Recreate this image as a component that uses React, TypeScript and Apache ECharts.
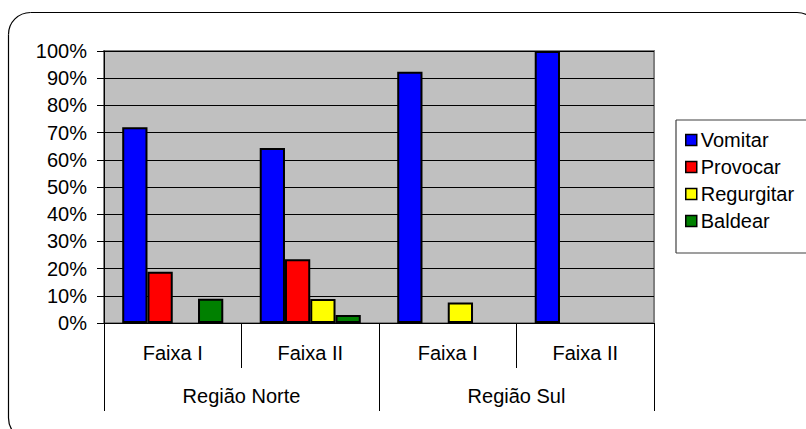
import React, { useEffect, useRef } from "react";
import * as echarts from "echarts";

const faixas = ["Faixa I", "Faixa II", "Faixa I", "Faixa II"];
const regioes = ["Região Norte", "Região Sul"];
const seriesNames = ["Vomitar", "Provocar", "Regurgitar", "Baldear"];
const seriesColors = ["#0000ff", "#ff0000", "#ffff00", "#008000"];
const vomitar = [72, 64.3, 92.4, 100];
const provocar = [18.8, 23.4, null, null];
const regurgitar = [null, 8.8, 7.5, null];
const baldear = [8.9, 2.9, null, null];
const yTicks = [0, 10, 20, 30, 40, 50, 60, 70, 80, 90, 100];

const FONT = "'Liberation Sans', Arial, sans-serif";
const FS = 20;

export default function App() {
  const ref = useRef<HTMLDivElement>(null);
  useEffect(() => {
    if (!ref.current) return;
    const chart = echarts.init(ref.current, null, { renderer: "svg" });
    const values = [vomitar, provocar, regurgitar, baldear];
    const frameStyle = { stroke: "#000", lineWidth: 1.2, fill: "none" };
    const legendStyle = { stroke: "#404040", lineWidth: 1.2, fill: "none" };
    const R = 22;
    chart.setOption({
      animation: false,
      backgroundColor: "#ffffff",
      textStyle: { fontFamily: FONT },
      grid: {
        left: 104,
        top: 51,
        width: 550,
        height: 272,
        show: true,
        backgroundColor: "#c0c0c0",
        borderColor: "#808080",
        borderWidth: 2,
      },
      legend: {
        orient: "vertical",
        left: 685,
        top: 129,
        itemWidth: 11,
        itemHeight: 11,
        itemGap: 5,
        padding: 0,
        icon: "rect",
        data: seriesNames,
        itemStyle: { borderColor: "#000", borderWidth: 1.5 },
        textStyle: { fontFamily: FONT, fontSize: FS, color: "#000", padding: [0, 0, 0, -1], lineHeight: 22 },
      },
      xAxis: [
        {
          type: "category",
          data: faixas,
          position: "bottom",
          boundaryGap: true,
          axisLine: { show: true, lineStyle: { color: "#000", width: 1 } },
          axisTick: { show: true, length: 45, lineStyle: { color: "#000", width: 1 } },
          axisLabel: { margin: 20, fontSize: FS, color: "#000", fontFamily: FONT },
        },
        {
          type: "category",
          data: regioes,
          position: "bottom",
          boundaryGap: true,
          axisLine: { show: false },
          axisTick: { show: true, length: 88, lineStyle: { color: "#000", width: 1 } },
          axisLabel: { margin: 63, fontSize: FS, color: "#000", fontFamily: FONT },
        },
      ],
      yAxis: {
        type: "value",
        min: yTicks[0],
        max: yTicks[yTicks.length - 1],
        interval: 10,
        axisLine: { show: true, lineStyle: { color: "#000", width: 1 } },
        axisTick: { show: true, length: 7, lineStyle: { color: "#000" } },
        axisLabel: { formatter: "{value}%", margin: 17, fontSize: FS, color: "#000", fontFamily: FONT },
        splitLine: { show: true, lineStyle: { color: "#000", width: 1 } },
      },
      series: seriesNames.map((name, i) => ({
        name,
        type: "bar",
        xAxisIndex: 0,
        data: values[i],
        barGap: "0%",
        barCategoryGap: "26.5%",
        itemStyle: { color: seriesColors[i], borderColor: "#000", borderWidth: 2 },
      })),
      graphic: [
        // chart frame (rounded, partially cut off at right and bottom)
        { type: "line", shape: { x1: 8.5, y1: 12.5 + R, x2: 8.5, y2: 440 - R }, style: frameStyle, silent: true, z: 100 },
        { type: "line", shape: { x1: 8.5 + R, y1: 12.5, x2: 797, y2: 12.5 }, style: frameStyle, silent: true, z: 100 },
        { type: "arc", shape: { cx: 8.5 + R, cy: 12.5 + R, r: R, startAngle: Math.PI, endAngle: Math.PI * 1.5 }, style: frameStyle, silent: true, z: 100 },
        { type: "arc", shape: { cx: 797, cy: 12.5 + R, r: R, startAngle: Math.PI * 1.5, endAngle: Math.PI * 2 }, style: frameStyle, silent: true, z: 100 },
        { type: "arc", shape: { cx: 8.5 + R, cy: 440 - R, r: R, startAngle: Math.PI * 0.5, endAngle: Math.PI }, style: frameStyle, silent: true, z: 100 },
        // legend box (extends past right edge)
        { type: "line", shape: { x1: 676, y1: 120, x2: 676, y2: 253 }, style: legendStyle, silent: true, z: 100 },
        { type: "line", shape: { x1: 676, y1: 120, x2: 820, y2: 120 }, style: legendStyle, silent: true, z: 100 },
        { type: "line", shape: { x1: 676, y1: 253, x2: 820, y2: 253 }, style: legendStyle, silent: true, z: 100 },
      ],
    });
    return () => chart.dispose();
  }, []);
  return (
    <div
      ref={ref}
      style={{ position: "fixed", left: 0, top: 0, width: 806, height: 429 }}
    />
  );
}
